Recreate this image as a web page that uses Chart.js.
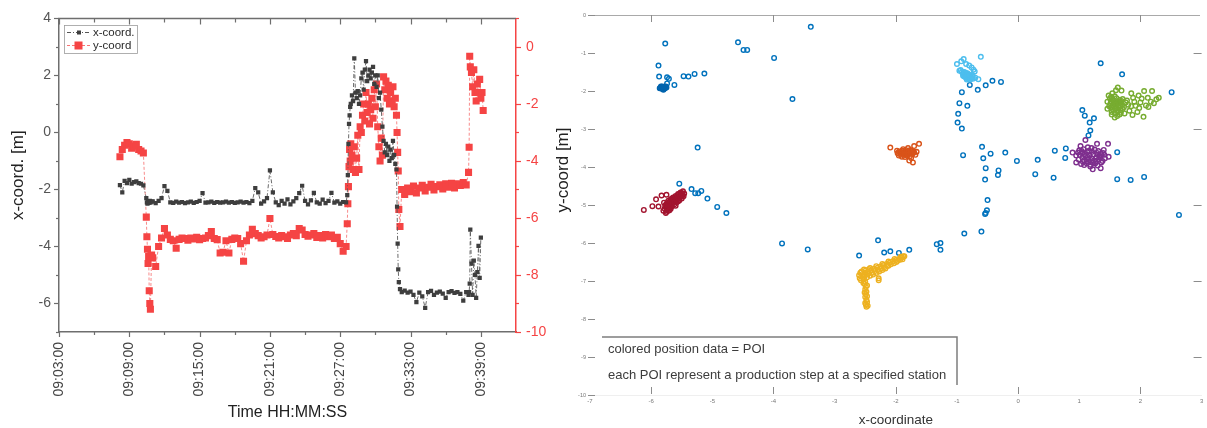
<!DOCTYPE html>
<html>
<head>
<meta charset="utf-8">
<script src="https://cdn.jsdelivr.net/npm/chart.js@4.4.1/dist/chart.umd.min.js"></script>
<style>
  html, body { margin: 0; padding: 0; background: #fff; width: 1207px; height: 428px; overflow: hidden; }
  canvas { position: absolute; top: 0; }
  #track { left: 0; }
  #poi { left: 560px; }
</style>
</head>
<body>
<canvas id="track" width="580" height="428"></canvas>
<canvas id="poi" width="647" height="428"></canvas>
<script>
// ---- Time series: minutes after 09:00, x and y coordinate in metres ----
const timeMin = [
  8.2, 8.4, 8.6, 8.8, 9.0, 9.2, 9.4, 9.6, 9.8, 10.0, 10.2,
  10.45, 10.5, 10.55, 10.6, 10.65, 10.7, 10.75, 10.8, 10.9,
  11.0, 11.25, 11.5, 11.75, 12.0, 12.25, 12.5, 12.75, 13.0, 13.25,
  13.5, 13.75, 14.0, 14.25, 14.5, 14.75, 15.0, 15.25, 15.5, 15.75,
  16.0, 16.25, 16.5, 16.75, 17.0, 17.25, 17.5, 17.75, 18.0, 18.25,
  18.5, 18.75, 19.0, 19.25, 19.5, 19.75, 20.0, 20.25, 20.5, 20.75,
  21.0, 21.25, 21.5, 21.75, 22.0, 22.25, 22.5, 22.75, 23.0, 23.25,
  23.5, 23.75, 24.0, 24.25, 24.5, 24.75, 25.0, 25.25, 25.5, 25.75,
  26.0, 26.25, 26.5, 26.75, 27.0, 27.25,
  27.5, 27.6, 27.65, 27.7, 27.75, 27.8, 27.85, 27.9, 28.0, 28.1,
  28.2, 28.3, 28.4, 28.5, 28.6, 28.7, 28.8, 28.9, 29.0, 29.1,
  29.2, 29.3, 29.4, 29.5, 29.6, 29.7, 29.8, 29.9, 30.0, 30.1,
  30.2, 30.3, 30.4, 30.5, 30.6, 30.7, 30.8, 30.9, 31.0, 31.1,
  31.2, 31.3, 31.4, 31.5, 31.6, 31.7, 31.8,
  31.85, 31.9, 31.95, 32.0, 32.1,
  32.25, 32.5, 32.75, 33.0, 33.25, 33.5, 33.75, 34.0, 34.25, 34.5,
  34.75, 35.0, 35.25, 35.5, 35.75, 36.0, 36.25, 36.5, 36.75, 37.0,
  37.25, 37.5, 37.75, 37.95,
  38.0, 38.05, 38.1, 38.2, 38.3, 38.4, 38.5, 38.6, 38.7, 38.8, 38.9, 39.0, 39.1, 39.2
];

const xCoord = [
  -1.85, -2.10, -1.70, -1.78, -1.66, -1.80, -1.74, -1.72, -1.78, -1.80, -1.86,
  -2.30, -2.45, -2.50, -2.42, -2.47, -2.44, -2.40, -2.46, -2.43,
  -2.42, -2.48, -2.40, -2.30, -1.88, -2.05, -2.45, -2.47, -2.43, -2.46,
  -2.44, -2.48, -2.45, -2.43, -2.47, -2.44, -2.40, -2.13, -2.46, -2.45,
  -2.43, -2.47, -2.44, -2.46, -2.45, -2.43, -2.46, -2.44, -2.47, -2.45,
  -2.43, -2.46, -2.44, -2.48, -2.40, -1.95, -2.10, -2.50, -2.42, -2.30,
  -1.33, -2.10, -2.45, -2.55, -2.40, -2.50, -2.35, -2.52, -2.42, -2.30,
  -2.13, -1.87, -2.40, -2.52, -2.38, -2.12, -2.45, -2.50, -2.36, -2.48,
  -2.40, -2.12, -2.46, -2.42, -2.50, -2.44,
  -2.45, -2.20, -1.50, -0.40, 0.30, 0.60, 0.90, 1.00, 1.30, 1.10,
  2.60, 1.40, 1.20, 1.45, 1.00, 1.30, 1.90, 2.10, 1.50, 2.20,
  2.50, 1.80, 2.00, 2.20, 1.90, 2.10, 2.30, 1.70, 2.00, 1.60,
  2.00, 1.20, 1.40, 0.80, 0.20, -0.30, -0.70, -0.40, -0.80, -0.50,
  -1.00, -0.60, -0.90, -0.30, -0.80, -1.10, -1.30,
  -2.60, -3.90, -4.80, -5.25, -5.50,
  -5.60, -5.55, -5.62, -5.58, -5.70, -5.95, -5.62, -5.75, -6.15, -5.60,
  -5.56, -5.70, -5.62, -5.58, -5.65, -5.80, -5.60, -5.57, -5.63, -5.60,
  -5.66, -5.90, -5.60, -5.70,
  -5.60, -5.30, -3.41, -4.60, -5.70, -4.50, -5.00, -5.80, -4.90, -3.98, -5.10, -3.69, null, null
];

const yCoord = [
  -3.85, -3.60, -3.45, -3.35, -3.40, -3.55, -3.48, -3.42, -3.60, -3.65, -3.72,
  -5.97, -6.66, -7.10, -7.60, -7.35, -8.55, -9.00, -9.20, -7.30,
  -7.40, -7.70, -7.00, -6.70, -6.37, -6.60, -6.75, -6.80, -7.06, -6.75,
  -6.70, -6.72, -6.78, -6.70, -6.74, -6.68, -6.76, -6.72, -6.70, -6.62,
  -6.48, -6.72, -6.76, -7.23, -7.20, -6.80, -7.23, -6.75, -6.70, -6.72,
  -6.90, -7.52, -6.80, -6.60, -6.40, -6.55, -6.62, -6.70, -6.66, -6.60,
  -6.02, -6.58, -6.65, -6.70, -6.62, -6.66, -6.72, -6.60, -6.55, -6.62,
  -6.37, -6.42, -6.58, -6.64, -6.60, -6.55, -6.68, -6.62, -6.70, -6.58,
  -6.66, -6.60, -6.72, -6.68, -6.90, -7.17,
  -7.00, -6.20, -5.50, -4.90, -4.20, -3.60, -4.00, -3.40, -3.80, -4.30,
  -3.50, -4.40, -3.90, -3.10, -4.30, -2.80, -3.00, -2.40, -2.00, -2.60,
  -1.60, -2.30, -2.00, -2.70, -2.20, -1.80, -2.50, -1.50, -2.10, -1.30,
  -2.80, -3.50, -4.00, -3.20, -3.80, -1.05, -1.50, -1.20, -1.80, -1.35,
  -2.00, -1.60, -1.90, -1.40, -2.10, -1.80, -2.40,
  -3.00, -3.70, -4.35, -5.70, -6.30,
  -5.00, -5.18, -4.95, -5.08, -4.88, -5.12, -4.95, -4.85, -5.05, -4.92,
  -4.82, -5.02, -4.90, -4.84, -4.98, -4.80, -4.92, -4.78, -4.95, -4.80,
  -4.86, -4.76, -4.84, -4.40,
  -3.52, -0.33, -0.70, -0.90, -1.40, -0.80, -1.60, -1.90, -1.30, -1.60, -1.14, -1.80, -1.60, -2.23
];

const timeTicks = [3, 9, 15, 21, 27, 33, 39];
const xCoordTicks = [-6, -4, -2, 0, 2, 4];
const yCoordTicks = [-10, -8, -6, -4, -2, 0];

// ---- Floor positions [x, y] in metres ----
const pathPoints = [
  [-3.39,-0.31],[-5.77,-0.75],[-4.58,-0.72],[-4.49,-0.92],[-4.43,-0.92],[-3.99,-1.13],
  [-5.88,-1.33],[-5.87,-1.62],[-5.74,-1.64],[-5.71,-1.68],[-5.47,-1.61],[-5.39,-1.62],[-5.29,-1.55],[-5.13,-1.54],[-5.62,-1.84],[-5.74,-1.80],
  [-3.69,-2.21],[-5.24,-3.49],
  [-5.54,-4.44],[-5.34,-4.58],[-5.28,-4.69],[-5.23,-4.69],[-5.18,-4.63],[-5.08,-4.83],[-4.92,-5.05],[-4.77,-5.21],
  [-3.86,-6.01],[-3.44,-6.17],[-2.60,-6.33],[-2.29,-5.93],[-2.19,-6.25],[-2.09,-6.22],[-1.95,-6.26],[-1.78,-6.18],
  [-1.33,-6.03],[-1.27,-6.00],[-1.27,-6.18],[-0.88,-5.75],[-0.60,-5.70],[-0.53,-5.21],[-0.51,-5.14],[-0.50,-4.87],[-0.54,-5.24],
  [-0.54,-4.33],[-0.53,-4.03],[-0.57,-3.77],[-0.59,-3.47],[-0.90,-3.69],[-0.45,-3.65],[-0.21,-3.62],[-0.02,-3.84],[0.32,-3.81],
  [0.28,-4.19],[0.58,-4.28],[0.60,-3.57],[0.77,-3.76],[0.78,-3.51],[-0.32,-4.09],[-0.33,-4.21],
  [-0.92,-2.99],[-0.99,-2.83],[-0.98,-2.60],[-0.96,-2.32],[-0.83,-2.39],[-0.92,-2.03],[-0.66,-1.97],[-0.79,-1.84],[-0.53,-1.85],
  [-0.42,-1.73],[-0.28,-1.76],
  [1.05,-2.50],[1.09,-2.65],[1.24,-2.72],[1.17,-2.83],[1.18,-3.04],[1.15,-3.17],[1.35,-1.27],[1.70,-1.56],[2.51,-2.03],
  [1.62,-3.61],[1.62,-4.32],[1.84,-4.34],[2.06,-4.26],[2.63,-5.26]
];

const poiBlue = [
  [-5.80,-1.91],[-5.83,-1.90],[-5.78,-1.93],[-5.76,-1.88],[-5.81,-1.95],[-5.85,-1.92],
  [-5.79,-1.89],[-5.82,-1.94],[-5.77,-1.92],[-5.84,-1.88],[-5.80,-1.97],[-5.86,-1.93],
  [-5.81,-1.90],[-5.79,-1.95],[-5.83,-1.93],[-5.78,-1.90],[-5.82,-1.88],[-5.75,-1.91]
];

const poiCrimson = [
  [-6.12,-5.13],[-5.98,-5.03],[-5.88,-5.04],[-5.92,-4.85],[-5.83,-4.75],[-5.75,-4.73],[-5.75,-5.18],
  [-5.78,-5.10],[-5.77,-5.01],[-5.79,-4.94],[-5.74,-5.13],[-5.73,-5.05],[-5.75,-4.97],[-5.72,-4.89],
  [-5.70,-5.08],[-5.69,-4.99],[-5.71,-4.93],[-5.68,-4.85],[-5.66,-5.03],[-5.65,-4.95],[-5.67,-4.88],[-5.64,-4.80],
  [-5.62,-4.98],[-5.61,-4.90],[-5.63,-4.83],[-5.60,-4.76],[-5.58,-4.93],[-5.57,-4.85],[-5.59,-4.78],[-5.56,-4.71],
  [-5.54,-4.88],[-5.53,-4.80],[-5.55,-4.73],[-5.52,-4.67],[-5.50,-4.83],[-5.49,-4.75],[-5.51,-4.69],[-5.47,-4.77],
  [-5.46,-4.70],[-5.48,-4.64],[-5.80,-5.15],[-5.76,-5.21],[-5.72,-5.15],[-5.68,-5.10],[-5.60,-5.02],
  [-5.76,-5.06],[-5.74,-4.99],[-5.71,-5.02],[-5.69,-4.92],[-5.67,-4.97],[-5.64,-4.91],[-5.63,-4.87],
  [-5.61,-4.84],[-5.59,-4.87],[-5.57,-4.79],[-5.55,-4.82],[-5.53,-4.75],[-5.51,-4.78],[-5.49,-4.70],
  [-5.66,-4.83],[-5.72,-4.95],[-5.70,-5.14],[-5.62,-4.93],[-5.56,-4.90],[-5.50,-4.72]
];

const poiOrange = [
  [-2.09,-3.49],[-1.62,-3.39],[-1.72,-3.88],[-1.78,-3.83],[-1.88,-3.53],[-1.70,-3.45],[-1.66,-3.60],
  [-1.98,-3.57],[-1.97,-3.64],[-1.93,-3.60],[-1.92,-3.68],[-1.88,-3.58],[-1.87,-3.65],[-1.84,-3.55],
  [-1.83,-3.62],[-1.82,-3.70],[-1.79,-3.57],[-1.78,-3.64],[-1.77,-3.72],[-1.74,-3.58],[-1.73,-3.66],
  [-1.70,-3.62],[-1.68,-3.68],[-1.95,-3.70],[-1.85,-3.74],[-1.75,-3.76],[-1.80,-3.50],[-1.90,-3.73],
  [-1.95,-3.60],[-1.90,-3.63],[-1.85,-3.60],[-1.80,-3.62],[-1.75,-3.63],[-1.71,-3.59],[-1.90,-3.57],
  [-1.86,-3.68],[-1.80,-3.68],[-1.76,-3.55]
];

const poiYellow = [
  [-2.60,-6.85],[-2.59,-6.93],[-2.58,-6.78],[-2.55,-6.82],[-2.54,-6.89],[-2.56,-6.75],[-2.50,-6.78],
  [-2.51,-6.86],[-2.49,-6.72],[-2.45,-6.75],[-2.46,-6.82],[-2.44,-6.69],[-2.40,-6.72],[-2.39,-6.79],
  [-2.35,-6.68],[-2.34,-6.74],[-2.30,-6.65],[-2.29,-6.71],[-2.25,-6.62],[-2.24,-6.67],[-2.20,-6.58],
  [-2.19,-6.64],[-2.15,-6.55],[-2.14,-6.60],[-2.10,-6.52],[-2.05,-6.48],[-2.00,-6.45],[-1.99,-6.50],
  [-1.95,-6.42],[-1.90,-6.38],[-1.89,-6.43],[-1.86,-6.35],
  [-2.52,-6.95],[-2.50,-7.02],[-2.51,-7.08],[-2.49,-7.15],[-2.50,-7.22],[-2.48,-7.28],[-2.49,-7.35],
  [-2.50,-7.42],[-2.48,-7.50],[-2.47,-7.55],[-2.49,-7.62],[-2.48,-7.68],[-2.28,-6.93],[-2.28,-6.98],
  [-2.57,-6.98],[-2.53,-6.95],[-2.47,-6.90],[-2.42,-6.86],[-2.37,-6.83],[-2.32,-6.79],[-2.27,-6.75],
  [-2.22,-6.71],[-2.17,-6.67],[-2.12,-6.60],[-2.08,-6.56],[-2.03,-6.53],[-1.97,-6.47],[-1.93,-6.44],
  [-1.88,-6.35],[-1.92,-6.36],[-2.02,-6.42],[-2.12,-6.49],[-2.22,-6.55],[-2.32,-6.61],[-2.42,-6.66],
  [-2.52,-6.70],[-2.53,-7.05],[-2.47,-7.12],[-2.51,-7.30],[-2.47,-7.40],[-2.50,-7.58],[-2.46,-7.65]
];

const poiLightBlue = [
  [-0.61,-1.10],[-0.89,-1.16],[-1.00,-1.29],[-0.85,-1.29],[-0.76,-1.38],[-0.71,-1.49],[-0.96,-1.47],
  [-0.65,-1.69],[-0.93,-1.22],[-0.80,-1.33],[-0.73,-1.44],[-0.90,-1.55],[-0.86,-1.58],[-0.82,-1.62],
  [-0.78,-1.65],[-0.74,-1.68],[-0.88,-1.62],[-0.84,-1.66],[-0.80,-1.70],[-0.92,-1.50],[-0.86,-1.52],
  [-0.82,-1.56],[-0.78,-1.60],[-0.74,-1.62],[-0.70,-1.65],[-0.94,-1.45],[-0.84,-1.70],
  [-0.88,-1.58],[-0.84,-1.60],[-0.80,-1.64],[-0.76,-1.66],[-0.90,-1.60],[-0.86,-1.64],[-0.82,-1.68],
  [-0.78,-1.69],[-0.88,-1.50],[-0.83,-1.53],[-0.79,-1.57],[-0.75,-1.58]
];

const poiGreen = [
  [1.63,-1.91],[1.69,-1.99],[1.85,-2.06],[1.88,-2.18],[2.06,-2.00],[2.19,-2.00],[1.78,-2.25],[1.92,-2.39],
  [2.09,-2.38],[2.17,-2.28],[2.26,-2.22],[2.05,-2.68],[1.87,-2.63],[1.74,-2.59],[1.46,-2.47],[1.46,-2.28],
  [1.48,-2.12],[1.54,-2.06],[1.58,-2.70],[2.30,-2.18],[2.22,-2.32],[2.13,-2.42],[1.98,-2.45],[1.95,-2.55],
  [1.82,-2.52],[1.66,-2.62],[2.00,-2.30],[1.97,-2.12],[1.60,-1.98],
  [1.50,-2.20],[1.55,-2.23],[1.61,-2.19],[1.66,-2.24],[1.71,-2.21],[1.51,-2.33],[1.56,-2.30],[1.62,-2.35],
  [1.67,-2.31],[1.70,-2.36],[1.52,-2.44],[1.57,-2.41],[1.60,-2.46],[1.65,-2.43],[1.71,-2.47],[1.53,-2.55],
  [1.58,-2.58],[1.63,-2.54],[1.68,-2.57],[1.58,-2.14],[1.62,-2.66],[1.53,-2.62],[1.67,-2.28],
  [1.52,-2.27],[1.58,-2.26],[1.64,-2.29],[1.69,-2.26],[1.54,-2.38],[1.59,-2.36],[1.64,-2.38],[1.68,-2.40],
  [1.55,-2.49],[1.61,-2.51],[1.67,-2.50],[1.49,-2.40],[1.73,-2.42],[1.80,-2.36],[1.76,-2.30],[1.85,-2.40],
  [1.90,-2.28],[2.02,-2.20],[2.12,-2.18],[1.52,-2.15]
];

const poiPurple = [
  [1.47,-3.39],[1.48,-3.73],[1.40,-3.55],[0.89,-3.62],[0.95,-3.88],[1.18,-3.99],[1.35,-4.03],[1.10,-3.29],
  [1.29,-3.39],[1.02,-3.45],[1.22,-4.06],[1.08,-3.95],
  [1.00,-3.56],[1.07,-3.53],[1.16,-3.57],[1.25,-3.54],[1.31,-3.58],[1.39,-3.63],[1.01,-3.69],[1.09,-3.66],
  [1.17,-3.70],[1.23,-3.67],[1.33,-3.71],[1.41,-3.68],[0.99,-3.80],[1.08,-3.82],[1.15,-3.79],[1.24,-3.83],
  [1.32,-3.80],[1.38,-3.84],[1.03,-3.92],[1.12,-3.90],[1.18,-3.94],[1.26,-3.91],[1.30,-3.96],[0.95,-3.70],
  [1.05,-3.62],[1.20,-3.50],[1.28,-3.75],[1.12,-3.85],[1.36,-3.88],
  [1.04,-3.58],[1.13,-3.61],[1.21,-3.60],[1.29,-3.63],[1.36,-3.66],[1.05,-3.75],[1.14,-3.74],[1.20,-3.77],
  [1.30,-3.68],[1.10,-3.71],[1.27,-3.86],[1.22,-3.88],[1.06,-3.86],[1.34,-3.75],[0.98,-3.62],[1.16,-3.86],
  [1.42,-3.77],[1.14,-3.48]
];

const poiXTicks = [-7, -6, -5, -4, -3, -2, -1, 0, 1, 2, 3];
const poiYTicks = [0, -1, -2, -3, -4, -5, -6, -7, -8, -9, -10];

const poiNote = ['colored position data = POI', 'each POI represent a production step at a specified station'];

// ---------------------------------------------------------------------
Chart.defaults.font.family = "'Liberation Sans', Arial, Helvetica, sans-serif";

const FONT = "'Liberation Sans', Arial, Helvetica, sans-serif";
const GREY_AXIS = '#6e6e6e';
const RED = '#f54444';

function clock(min) {
  const m = Math.round(min);
  return '09:' + String(m).padStart(2, '0') + ':00';
}

function series(values) {
  return timeMin.map((t, i) => ({ x: t, y: values[i] }));
}
function pts(list) {
  return list.map(p => ({ x: p[0], y: p[1] }));
}

// frame, minor ticks, legend box and the second y title of the time chart
const trackFrame = {
  id: 'trackFrame',
  afterDraw(chart) {
    const { ctx, chartArea: a, scales } = chart;
    const x = scales.x, yL = scales.yL, yR = scales.yR;
    ctx.save();
    ctx.strokeStyle = GREY_AXIS;
    ctx.lineWidth = 1.5;
    ctx.beginPath();
    ctx.moveTo(a.left - 0.75, a.top);
    ctx.lineTo(a.right, a.top);
    ctx.stroke();

    ctx.lineWidth = 1.2;
    // time ticks: labelled every 6 min, unlabelled halfway between
    timeTicks.forEach(t => {
      [[t, 5], [t + 3, 3]].forEach(([v, len]) => {
        if (v >= x.max) return;
        const px = Math.round(x.getPixelForValue(v)) + 0.5;
        ctx.beginPath();
        ctx.moveTo(px, a.bottom);
        ctx.lineTo(px, a.bottom + len);
        ctx.moveTo(px, a.top);
        ctx.lineTo(px, a.top + len + 1);
        ctx.stroke();
      });
    });
    xCoordTicks.forEach(v => {
      [[v, 5], [v - 1, 3]].forEach(([w, len]) => {
        if (w < yL.min) return;
        const py = Math.round(yL.getPixelForValue(w)) + 0.5;
        ctx.beginPath();
        ctx.moveTo(a.left, py);
        ctx.lineTo(a.left - len, py);
        ctx.stroke();
      });
    });
    ctx.strokeStyle = RED;
    yCoordTicks.forEach(v => {
      [[v, 5], [v + 1, 3]].forEach(([w, len]) => {
        if (w > yR.max) return;
        const py = Math.round(yR.getPixelForValue(w)) + 0.5;
        ctx.beginPath();
        ctx.moveTo(a.right, py);
        ctx.lineTo(a.right + len, py);
        ctx.stroke();
      });
    });

    // legend
    const ds = chart.data.datasets;
    ctx.strokeStyle = '#9c9c9c';
    ctx.lineWidth = 0.8;
    ctx.strokeRect(64.5, 25.5, 73, 28);
    ctx.font = '11.5px ' + FONT;
    ctx.textBaseline = 'middle';
    // row 1
    ctx.setLineDash([4, 2, 1, 2]);
    ctx.strokeStyle = '#555';
    ctx.lineWidth = 1;
    ctx.beginPath(); ctx.moveTo(67, 32.5); ctx.lineTo(91, 32.5); ctx.stroke();
    ctx.setLineDash([]);
    ctx.fillStyle = '#3e3e3e';
    ctx.fillRect(77, 30.5, 4, 4);
    ctx.fillStyle = '#2a2a2a';
    ctx.fillText(ds[0].label, 93, 33);
    // row 2
    ctx.setLineDash([3, 2]);
    ctx.strokeStyle = 'rgba(245,80,80,0.8)';
    ctx.beginPath(); ctx.moveTo(67, 45.5); ctx.lineTo(91, 45.5); ctx.stroke();
    ctx.setLineDash([]);
    ctx.fillStyle = RED;
    ctx.fillRect(74.5, 41.5, 8, 8);
    ctx.fillStyle = '#2a2a2a';
    ctx.fillText(ds[1].label, 93, 46);

    // second y title
    ctx.save();
    ctx.translate(563, 170);
    ctx.rotate(-Math.PI / 2);
    ctx.font = '17px ' + FONT;
    ctx.fillStyle = '#222';
    ctx.textAlign = 'center';
    ctx.textBaseline = 'middle';
    ctx.fillText('y-coord [m]', 0, 0);
    ctx.restore();
    ctx.restore();
  }
};

new Chart(document.getElementById('track'), {
  type: 'scatter',
  data: {
    datasets: [
      {
        label: 'x-coord.',
        data: series(xCoord),
        yAxisID: 'yL',
        showLine: true,
        spanGaps: false,
        borderColor: '#5a5a5a',
        borderWidth: 0.9,
        borderDash: [4, 2, 1, 2],
        pointStyle: 'rect',
        pointRadius: 3.0,
        pointBorderWidth: 0,
        pointBackgroundColor: '#3e3e3e'
      },
      {
        label: 'y-coord',
        data: series(yCoord),
        yAxisID: 'yR',
        showLine: true,
        borderColor: 'rgba(245,80,80,0.75)',
        borderWidth: 0.9,
        borderDash: [3, 2],
        pointStyle: 'rect',
        pointRadius: 5.0,
        pointBorderWidth: 0,
        pointBackgroundColor: RED
      }
    ]
  },
  options: {
    responsive: false,
    animation: false,
    events: [],
    devicePixelRatio: 1,
    layout: { padding: { top: 14, left: 0, right: 0, bottom: 0 } },
    plugins: { legend: { display: false }, tooltip: { enabled: false } },
    scales: {
      x: {
        type: 'linear',
        position: 'bottom',
        min: 3,
        max: 42,
        afterBuildTicks: s => { s.ticks = timeTicks.map(v => ({ value: v })); },
        afterFit: s => { s.height = 96; },
        grid: { display: false, drawTicks: false },
        border: { display: true, color: GREY_AXIS, width: 1.5 },
        ticks: {
          autoSkip: false, minRotation: 90, maxRotation: 90, padding: 10,
          color: '#444', font: { size: 14 },
          callback: v => clock(v)
        },
        title: { display: true, text: 'Time HH:MM:SS', color: '#222', font: { size: 16 }, padding: { top: 0, bottom: 6 } }
      },
      yL: {
        type: 'linear',
        position: 'left',
        min: -7,
        max: 4,
        afterBuildTicks: s => { s.ticks = xCoordTicks.map(v => ({ value: v })); },
        afterFit: s => { s.width = 59; },
        grid: { display: false, drawTicks: false },
        border: { display: true, color: GREY_AXIS, width: 1.5 },
        ticks: { padding: 8, color: '#555', font: { size: 14 } },
        title: { display: true, text: 'x-coord. [m]', color: '#222', font: { size: 17 }, padding: { top: 8, bottom: 0 } }
      },
      yR: {
        type: 'linear',
        position: 'right',
        min: -10,
        max: 1,
        afterBuildTicks: s => { s.ticks = yCoordTicks.map(v => ({ value: v })); },
        afterFit: s => { s.width = 64; },
        grid: { display: false, drawTicks: false },
        border: { display: true, color: RED, width: 1.5 },
        ticks: { padding: 10, color: RED, font: { size: 14 } }
      }
    }
  },
  plugins: [trackFrame]
});

// frame, tick marks and note box of the floor plot
const poiFrame = {
  id: 'poiFrame',
  afterDraw(chart) {
    const { ctx, chartArea: a, scales: { x, y } } = chart;
    ctx.save();
    ctx.strokeStyle = '#a9a9a9';
    ctx.lineWidth = 1;
    ctx.beginPath();
    ctx.moveTo(a.left, a.top + 0.5);
    ctx.lineTo(chart.width - 7, a.top + 0.5);
    ctx.stroke();

    ctx.strokeStyle = '#8c8c8c';
    poiXTicks.filter(v => v % 2 === 0).forEach(v => {
      const px = Math.round(x.getPixelForValue(v)) + 0.5;
      ctx.beginPath();
      ctx.moveTo(px, a.top); ctx.lineTo(px, a.top + 7);
      ctx.moveTo(px, a.bottom - 1); ctx.lineTo(px, a.bottom - 8);
      ctx.stroke();
    });
    poiYTicks.forEach(v => {
      const py = Math.round(y.getPixelForValue(v)) + 0.5;
      ctx.beginPath();
      ctx.moveTo(a.left - 2, py); ctx.lineTo(a.left + 5, py);
      if (v % 2 !== 0) { ctx.moveTo(a.right - 8, py); ctx.lineTo(a.right, py); }
      ctx.stroke();
    });

    // note box
    const bx0 = 42, bx1 = 397, by0 = 337, by1 = 385;
    ctx.strokeStyle = '#7d7d7d';
    ctx.lineWidth = 1.5;
    ctx.beginPath();
    ctx.moveTo(bx0, by0); ctx.lineTo(bx1, by0); ctx.lineTo(bx1, by1);
    ctx.stroke();
    ctx.fillStyle = '#3c3c3c';
    ctx.font = '13px ' + FONT;
    ctx.textBaseline = 'middle';
    ctx.fillText(poiNote[0], 48, 349.5);
    ctx.fillText(poiNote[1], 48, 375);
    ctx.restore();
  }
};

function scatterSet(list, color) {
  return {
    data: pts(list),
    showLine: false,
    pointStyle: 'circle',
    pointRadius: 2.3,
    pointBorderWidth: 1.4,
    pointBorderColor: color,
    pointBackgroundColor: 'rgba(255,255,255,0)'
  };
}

new Chart(document.getElementById('poi'), {
  type: 'scatter',
  data: {
    datasets: [
      scatterSet(poiPurple, '#7E2F8E'),
      scatterSet(poiGreen, '#77AC30'),
      scatterSet(poiLightBlue, '#4DBEEE'),
      scatterSet(poiYellow, '#EDB120'),
      scatterSet(poiOrange, '#D95319'),
      scatterSet(poiCrimson, '#A2142F'),
      scatterSet(poiBlue, '#0064AE'),
      scatterSet(pathPoints, '#0072BD')
    ]
  },
  options: {
    responsive: false,
    animation: false,
    events: [],
    devicePixelRatio: 1,
    layout: { padding: { top: 15, left: 0, right: 2, bottom: 0 } },
    plugins: { legend: { display: false }, tooltip: { enabled: false } },
    scales: {
      x: {
        type: 'linear',
        min: -7,
        max: 3,
        afterBuildTicks: s => { s.ticks = poiXTicks.map(v => ({ value: v })); },
        afterFit: s => { s.height = 33; },
        grid: { display: false, drawTicks: false },
        border: { display: true, color: '#efefef', width: 1 },
        ticks: { autoSkip: false, maxRotation: 0, padding: 3, color: '#777', font: { size: 6 } },
        title: { display: true, text: 'x-coordinate', color: '#333', font: { size: 13.5 }, padding: { top: 0, bottom: 0 } }
      },
      y: {
        type: 'linear',
        min: -10,
        max: 0,
        afterBuildTicks: s => { s.ticks = poiYTicks.map(v => ({ value: v })); },
        afterFit: s => { s.width = 30; },
        grid: { display: false, drawTicks: false },
        border: { display: false },
        ticks: { autoSkip: false, padding: 4, color: '#777', font: { size: 5.5 } }
      }
    }
  },
  plugins: [poiFrame]
});
</script>
</body>
</html>
